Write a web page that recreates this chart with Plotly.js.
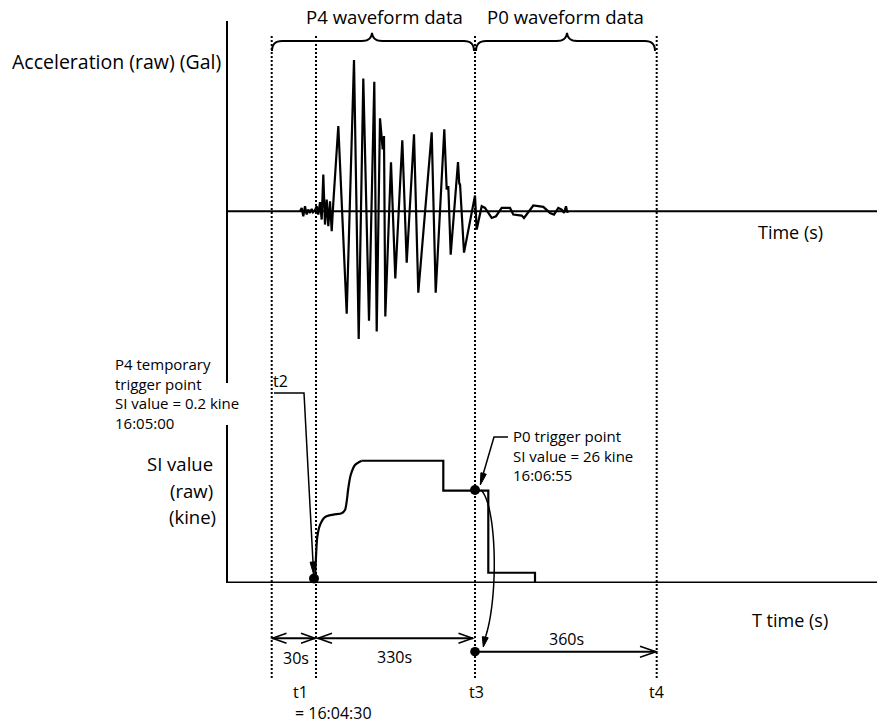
<!DOCTYPE html>
<html><head><meta charset="utf-8">
<script src="https://cdn.plot.ly/plotly-3.0.1.min.js"></script>
<style>html,body{margin:0;padding:0;background:#fff}#chart{width:880px;height:727px}</style>
</head><body><div id="chart"></div>
<script>
// ---- DATA (schematic time units along x, origin at the vertical axis) ----
// Acceleration waveform (raw, Gal - schematic amplitude)
const waveTime = [72, 73.7, 75.3, 77, 78.7, 80.3, 82, 83.7, 85, 87, 88.7, 90.3, 92, 93.7, 95.3, 97, 98.7, 100.3, 102, 103.7, 105.3,
  110.3, 118.7, 126, 130.7, 135.3, 141, 146.3, 148.7, 152, 154.7, 156, 157.3, 163, 167.3, 174.3, 178.7, 186, 190.3, 203.7, 207.7,
  216.3, 218.7, 220.3, 222.7, 230, 231.3, 232, 236, 247, 248.7, 253.7, 257, 263.7, 268, 273.7, 282, 285.3, 293.7, 296, 305.3,
  315.3, 322, 326, 330.3, 333.7, 336, 338, 339.3, 340];
const waveAccel = [0, 3.3, -5, 5, -3.3, 1.7, -1.7, 2.3, -1, 1, 5, -3.3, 9, -8.3, 36.7, -13.3, 11.7, -15, 10, -20, 8.3,
  85, -102.3, 150.7, -127.3, 132.4, -109.3, 129, -120, 92.7, 61.7, 75, -105, 48.7, -67, 70.7, -51.3, 76.7, -81.3, 78.7, -81.3,
  81.7, 21.7, 25, -43.3, 49, 26.7, 27.7, -41.3, 15.7, -18.3, 5, 3.3, -6.7, -5, 3.3, 3.3, -3.3, -4.3, -6.7, 5.7,
  4.3, -1.7, -3.3, 3.3, 1.7, -1.7, 5, -1.3, 0];
// SI value (raw, kine): smooth rise after P4 trigger
const siRiseTime  = [86.5, 87, 88, 89.3, 92, 97, 105.3, 113.7, 117, 118.7, 120.3, 122.7, 127, 133.7];
const siRiseValue = [1.2, 1.7, 7.3, 12.9, 16.2, 18.4, 19.1, 19.5, 20.4, 22.8, 26.5, 30.2, 33.0, 34.2];
// SI value steps
const siStepTime  = [133.7, 215.3, 215.3, 260.3, 260.3, 307, 307];
const siStepValue = [34.2, 34.2, 25.8, 25.8, 2.8, 2.8, 0];
// Trigger points: P4 temporary (0.2 kine), P0 (26 kine)
const triggerTime  = [86, 247];
const triggerSI    = [1.2, 26];
// Marker times t1, t2, t3, t4
const markerTimes  = [43.7, 88, 247, 428.7];
const markerLabels = ['t1', 't2', 't3', 't4'];
const spanLabels   = ['30s', '330s', '360s'];

// ---- helpers for decorative drawing (pixel -> paper) ----
const W = 880, H = 727;
const PX = v => v / W, PY = v => 1 - v / H;
function pathOf(pts, close) {
  return pts.map((p, i) => (i ? 'L' : 'M') + PX(p[0]).toFixed(5) + ',' + PY(p[1]).toFixed(5)).join(' ') + (close ? ' Z' : '');
}
function quad(p0, c, p1, n) {
  const out = [];
  for (let i = 0; i <= n; i++) { const t = i / n, a = (1 - t) * (1 - t), b = 2 * (1 - t) * t, d = t * t;
    out.push([a * p0[0] + b * c[0] + d * p1[0], a * p0[1] + b * c[1] + d * p1[1]]); }
  return out;
}
function cubic(p0, c1, c2, p1, n) {
  const out = [];
  for (let i = 0; i <= n; i++) { const t = i / n, u = 1 - t;
    out.push([u*u*u*p0[0] + 3*u*u*t*c1[0] + 3*u*t*t*c2[0] + t*t*t*p1[0], u*u*u*p0[1] + 3*u*u*t*c1[1] + 3*u*t*t*c2[1] + t*t*t*p1[1]]); }
  return out;
}
function head(tip, from, len, hw, filled) {
  let dx = tip[0] - from[0], dy = tip[1] - from[1]; const L = Math.hypot(dx, dy); dx /= L; dy /= L;
  const bx = tip[0] - dx * len, by = tip[1] - dy * len, nx = -dy, ny = dx;
  const pts = [[bx + nx * hw, by + ny * hw], tip, [bx - nx * hw, by - ny * hw]];
  return { type: 'path', xref: 'paper', yref: 'paper', path: pathOf(pts, filled),
    line: { color: '#000', width: filled ? 1 : 1.6 }, fillcolor: filled ? '#000' : 'rgba(0,0,0,0)' };
}
function pline(pts, w) {
  return { type: 'path', xref: 'paper', yref: 'paper', path: pathOf(pts, false), line: { color: '#000', width: w } };
}
function brace(x0, xm, x1, yTop, yEnd, yPeak) {
  let pts = [];
  pts = pts.concat(quad([x0, yEnd], [x0, yTop], [x0 + 10, yTop], 8));
  pts = pts.concat(quad([xm - 10, yTop], [xm - 1, yTop], [xm, yPeak], 8));
  pts = pts.concat(quad([xm, yPeak], [xm + 1, yTop], [xm + 10, yTop], 8));
  pts = pts.concat(quad([x1 - 10, yTop], [x1, yTop], [x1, yEnd], 8));
  return pline(pts, 2);
}

const traces = [
  { x: waveTime, y: waveAccel, xaxis: 'x', yaxis: 'y', mode: 'lines', line: { color: '#000', width: 2.2 }, hoverinfo: 'skip' },
  { x: siRiseTime, y: siRiseValue, xaxis: 'x2', yaxis: 'y2', mode: 'lines', line: { color: '#000', width: 2.2, shape: 'spline', smoothing: 0.8 }, hoverinfo: 'skip' },
  { x: siStepTime, y: siStepValue, xaxis: 'x2', yaxis: 'y2', mode: 'lines', line: { color: '#000', width: 2.2 }, hoverinfo: 'skip' },
  { x: triggerTime, y: triggerSI, xaxis: 'x2', yaxis: 'y2', mode: 'markers', marker: { color: '#000', size: 10 }, cliponaxis: false, hoverinfo: 'skip' }
];

const xDom = [228 / W, 877 / W];
const hidden = { showgrid: false, zeroline: false, showticklabels: false, ticks: '', showline: false };
const shapes = [];
// baselines (zero of each value axis)
shapes.push({ type: 'line', xref: 'x', yref: 'y', x0: 0, x1: 649, y0: 0, y1: 0, line: { color: '#000', width: 2.2 } });
shapes.push({ type: 'line', xref: 'x2', yref: 'y2', x0: 0, x1: 649, y0: 0, y1: 0, line: { color: '#000', width: 2.2 } });
// dotted marker lines
markerTimes.forEach(t => shapes.push({ type: 'line', xref: 'x', yref: 'paper', x0: t, x1: t, y0: PY(678), y1: PY(35),
  line: { color: '#000', width: 2, dash: '2px,2px' } }));
// braces
shapes.push(brace(272, 372, 474, 41, 51, 33));
shapes.push(brace(476, 567, 655, 41, 51, 33));
// P4 leader
shapes.push(pline([[274, 393], [304, 393], [313.2, 566]], 1.5));
shapes.push(head([313.5, 574], [304, 393], 12, 2.8, true));
// P0 leader
shapes.push(pline([[508, 437], [494, 437], [482, 478]], 1.5));
shapes.push(head([480.3, 485], [494, 437], 12, 2.8, true));
// curved arrow P0 -> bottom
shapes.push(pline(cubic([481, 490], [497, 505], [499, 600], [484.5, 640], 30), 1.5));
shapes.push(head([483.3, 647], [485.5, 636], 10, 3, true));
// span arrows
shapes.push(pline([[272, 638.3], [315.5, 638.3]], 2));
shapes.push(head([272.5, 638.3], [300, 638.3], 14, 5, false));
shapes.push(head([315, 638.3], [290, 638.3], 14, 5, false));
shapes.push(pline([[317.5, 638.3], [473, 638.3]], 2));
shapes.push(head([318, 638.3], [350, 638.3], 14, 5, false));
shapes.push(head([472.5, 638.3], [440, 638.3], 14, 5, false));
shapes.push(pline([[475, 651.7], [655.5, 651.7]], 2));
shapes.push(head([656, 651.7], [620, 651.7], 16, 5.5, false));
// bottom dot at t3
shapes.push({ type: 'circle', xref: 'paper', yref: 'paper', x0: PX(470.2), x1: PX(479.8), y0: PY(656.5), y1: PY(646.9),
  fillcolor: '#000', line: { color: '#000', width: 0 } });

function txt(s, x, y, size, anchor, align) {
  return { text: s, x: PX(x), y: PY(y), xref: 'paper', yref: 'paper', showarrow: false, xanchor: anchor || 'center', yanchor: 'middle',
    align: align || 'center', borderpad: 0,
    font: { size: size, color: '#000', family: 'Open Sans, sans-serif' } };
}
const annotations = [
  txt('P4 waveform data', 384, 17, 18.6), txt('P0 waveform data', 565, 17, 18.6),
  txt('Acceleration (raw) (Gal)', 222, 62, 19.5, 'right'),
  txt('Time (s)', 790, 232, 18), txt('T time (s)', 790, 620, 18),
  txt('P4 temporary<br>trigger point<br>SI value = 0.2 kine<br>16:05:00', 114, 393.5, 15, 'left', 'left'),
  txt(markerLabels[1], 272, 381, 16, 'left'),
  txt('SI value', 214, 463, 18.5, 'right'), txt('(raw)', 214, 490, 18.5, 'right'), txt('(kine)', 217, 516, 18.5, 'right'),
  txt('P0 trigger point<br>SI value = 26 kine<br>16:06:55', 512, 455, 15, 'left', 'left'),
  txt(spanLabels[0], 296, 658, 16), txt(spanLabels[1], 394, 657, 16), txt(spanLabels[2], 566, 639, 16),
  txt(markerLabels[0], 300, 692, 16), txt('= 16:04:30', 333, 713, 16),
  txt(markerLabels[2], 477, 692, 16), txt(markerLabels[3], 656.5, 692, 16)
];

const layout = {
  width: W, height: H, margin: { l: 0, r: 0, t: 0, b: 0 }, showlegend: false,
  paper_bgcolor: '#fff', plot_bgcolor: 'rgba(0,0,0,0)', font: { family: 'Open Sans, sans-serif', color: '#000' },
  xaxis: Object.assign({ domain: xDom, range: [0, 649], anchor: 'y' }, hidden),
  yaxis: Object.assign({}, hidden, { domain: [PY(383), PY(21)], range: [-171.3, 189.7], anchor: 'x', showline: true, linecolor: '#000', linewidth: 2 }),
  xaxis2: Object.assign({ domain: xDom, range: [0, 649], anchor: 'y2' }, hidden),
  yaxis2: Object.assign({}, hidden, { domain: [PY(583), PY(425)], range: [-0.08, 44.23], anchor: 'x2', showline: true, linecolor: '#000', linewidth: 2 }),
  shapes: shapes, annotations: annotations
};
Plotly.newPlot('chart', traces, layout, { staticPlot: true, displayModeBar: false });
</script></body></html>
